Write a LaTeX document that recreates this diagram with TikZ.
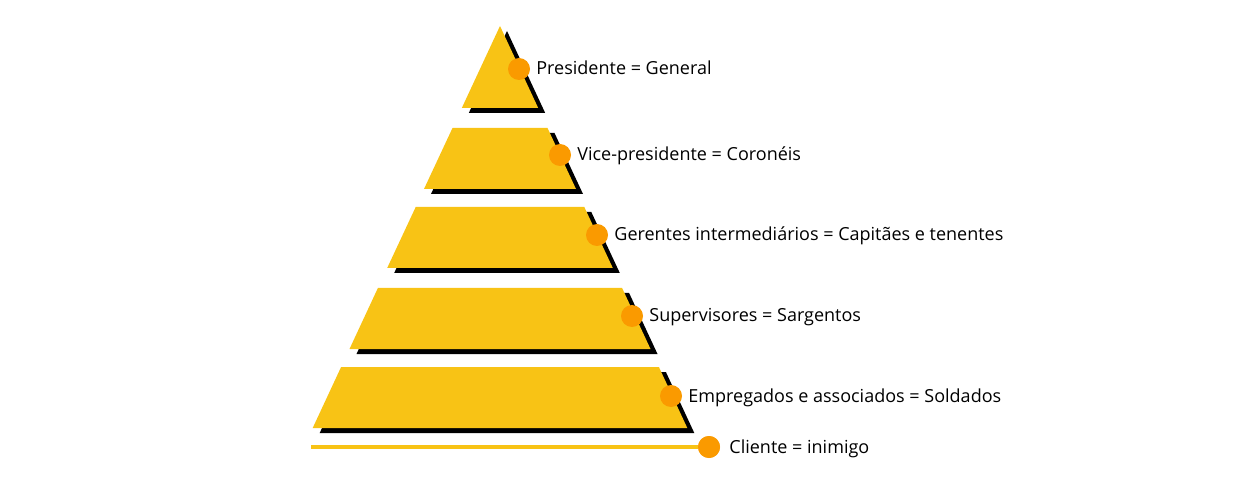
\documentclass[tikz,border=0pt]{standalone}
\usepackage{fontspec}
\setmainfont{Open Sans}
\usetikzlibrary{positioning,calc}
\definecolor{pyryellow}{HTML}{F8C315}
\definecolor{dotorange}{HTML}{FA9A00}

\begin{document}
\begin{tikzpicture}[x=1pt,y=-1pt]
\tikzstyle{level}=[fill=pyryellow]
\tikzstyle{shadow}=[fill=black]
\tikzstyle{dot}=[circle, fill=dotorange, inner sep=0pt, minimum size=22pt]
\tikzstyle{lbl}=[font=\fontsize{18}{21}\selectfont, inner sep=0pt, anchor=base west]
\useasboundingbox (0,0) rectangle (1250,486);
% shadows
\fill[shadow] (507,31) -- (545.2,113) -- (468.8,113) -- cycle;
\fill[shadow] (459.5,133) -- (554.5,133) -- (583,194) -- (431,194) -- cycle;
\fill[shadow] (422.7,212) -- (591.3,212) -- (619.8,273) -- (394.2,273) -- cycle;
\fill[shadow] (384.9,293) -- (629.1,293) -- (657.5,354) -- (356.5,354) -- cycle;
\fill[shadow] (348.1,372) -- (665.9,372) -- (694.3,433) -- (319.7,433) -- cycle;
% levels
\fill[level] (500,26) -- (538.2,108) -- (461.8,108) -- cycle;
\fill[level] (452.5,128) -- (547.5,128) -- (576,189) -- (424,189) -- cycle;
\fill[level] (415.7,207) -- (584.3,207) -- (612.8,268) -- (387.2,268) -- cycle;
\fill[level] (377.9,288) -- (622.1,288) -- (650.5,349) -- (349.5,349) -- cycle;
\fill[level] (341.1,367) -- (658.9,367) -- (687.3,428) -- (312.7,428) -- cycle;
% dots and labels
\node (d1) [dot] at (519,69) {};
\node (t1) [lbl] at ($(d1.east)+(6,6)$) {Presidente = General};
\node (d2) [dot] at (560,155) {};
\node (t2) [lbl] at ($(d2.east)+(6,6)$) {Vice-presidente = Coronéis};
\node (d3) [dot] at (597,235) {};
\node (t3) [lbl] at ($(d3.east)+(6,6)$) {Gerentes intermediários = Capitães e tenentes};
\node (d4) [dot] at (632,316) {};
\node (t4) [lbl] at ($(d4.east)+(6,6)$) {Supervisores = Sargentos};
\node (d5) [dot] at (671,396) {};
\node (t5) [lbl] at ($(d5.east)+(6,6)$) {Empregados e associados = Soldados};
% client line
\coordinate (c0) at (311,447);
\node (d6) [dot] at (709,447) {};
\node (t6) [lbl] at ($(d6.east)+(9,6)$) {Cliente = inimigo};
\draw[pyryellow, line width=4pt] (c0) -- (d6);
\node[dot] at (d6) {};
\end{tikzpicture}
\end{document}
